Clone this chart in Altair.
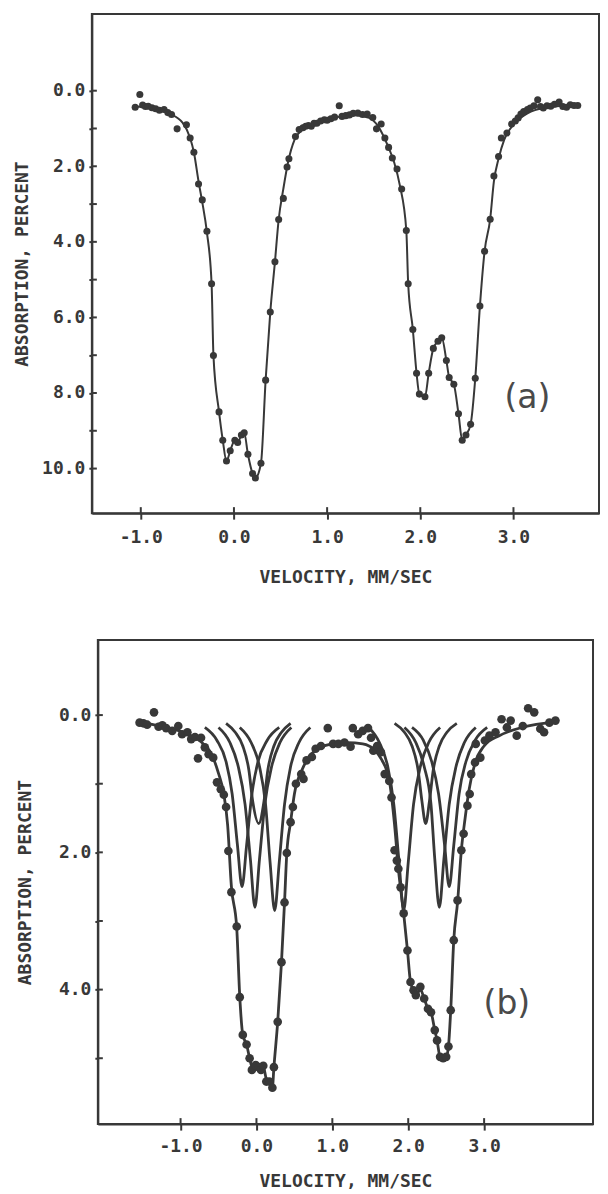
import altair as alt
import pandas as pd

INK = "#383838"
FONT = "DejaVu Sans Mono"

# ---------------- Panel (a) ----------------
a_vel = [-1.06, -1.01, -0.98, -0.95, -0.92, -0.88, -0.84, -0.8, -0.75, -0.71, -0.67, -0.61, -0.51, -0.47,
         -0.43, -0.38, -0.34, -0.29, -0.24, -0.22, -0.16, -0.12, -0.08, -0.04, 0.01, 0.04, 0.08, 0.11,
         0.15, 0.20, 0.23, 0.29, 0.34, 0.39, 0.44, 0.48, 0.53, 0.57, 0.59, 0.66, 0.70, 0.74, 0.77, 0.80,
         0.83, 0.86, 0.89, 0.93, 0.97, 1.00, 1.04, 1.08, 1.13, 1.16, 1.20, 1.24, 1.28, 1.33, 1.38, 1.43,
         1.49, 1.53, 1.58, 1.62, 1.66, 1.70, 1.75, 1.80, 1.85, 1.87, 1.92, 1.96, 1.99, 2.05, 2.09, 2.14,
         2.19, 2.23, 2.28, 2.31, 2.36, 2.41, 2.45, 2.49, 2.54, 2.59, 2.64, 2.69, 2.75, 2.79, 2.84, 2.87,
         2.93, 2.98, 3.02, 3.05, 3.08, 3.11, 3.15, 3.18, 3.22, 3.26, 3.29, 3.32, 3.36, 3.40, 3.44, 3.49,
         3.53, 3.57, 3.61, 3.65, 3.69]
a_abs = [0.44, 0.10, 0.38, 0.42, 0.41, 0.45, 0.48, 0.52, 0.50, 0.58, 0.63, 1.01, 0.90, 1.25,
         1.63, 2.47, 2.89, 3.72, 5.11, 7.01, 8.50, 9.25, 9.80, 9.53, 9.25, 9.31, 9.11, 9.05,
         9.62, 10.13, 10.25, 9.86, 7.66, 5.86, 4.53, 3.41, 2.85, 2.02, 1.80, 1.21, 1.03, 0.98, 0.94, 0.92,
         0.94, 0.86, 0.86, 0.80, 0.77, 0.78, 0.74, 0.70, 0.40, 0.68, 0.66, 0.64, 0.60, 0.59, 0.63, 0.62,
         0.71, 1.01, 0.88, 1.25, 1.50, 1.78, 2.07, 2.60, 3.70, 5.11, 6.32, 7.48, 8.03, 8.10, 7.48, 6.82,
         6.63, 6.54, 7.14, 7.59, 7.77, 8.55, 9.25, 9.11, 8.83, 7.61, 5.70, 4.25, 3.40, 2.26, 1.74, 1.25,
         1.12, 0.88, 0.80, 0.72, 0.62, 0.55, 0.50, 0.46, 0.40, 0.24, 0.42, 0.46, 0.40, 0.41, 0.36, 0.30,
         0.42, 0.44, 0.37, 0.39, 0.39]

a_fit_vel = [-1.06, -0.9, -0.7, -0.55, -0.47, -0.43, -0.38, -0.34, -0.29, -0.24, -0.22, -0.16, -0.12,
             -0.08, -0.04, 0.01, 0.04, 0.08, 0.11, 0.15, 0.20, 0.23, 0.29, 0.34, 0.39, 0.44, 0.48, 0.53,
             0.58, 0.65, 0.75, 0.9, 1.1, 1.3, 1.45, 1.55, 1.65, 1.72, 1.78, 1.85, 1.87, 1.92, 1.96, 1.99,
             2.05, 2.09, 2.14, 2.19, 2.23, 2.28, 2.31, 2.36, 2.41, 2.45, 2.49, 2.54, 2.59, 2.64, 2.69,
             2.75, 2.79, 2.84, 2.9, 3.0, 3.15, 3.35, 3.69]
a_fit_abs = [0.42, 0.45, 0.60, 0.85, 1.25, 1.63, 2.40, 2.95, 3.75, 5.11, 7.01, 8.50, 9.25,
             9.80, 9.53, 9.25, 9.31, 9.11, 9.05, 9.62, 10.13, 10.25, 9.86, 7.66, 5.86, 4.53, 3.41, 2.60,
             1.90, 1.30, 1.00, 0.82, 0.70, 0.65, 0.72, 0.95, 1.45, 1.90, 2.50, 3.70, 5.11, 6.32, 7.48, 8.03,
             8.10, 7.48, 6.82, 6.63, 6.54, 7.14, 7.59, 7.77, 8.55, 9.25, 9.11, 8.83, 7.61, 5.70, 4.25,
             3.40, 2.40, 1.80, 1.30, 0.90, 0.60, 0.45, 0.38]

a_xticks = [-1, 0, 1, 2, 3]
a_yticks = [0, 1, 2, 3, 4, 5, 6, 7, 8, 9, 10]

# ---------------- Panel (b) ----------------
b_vel = [-1.54, -1.49, -1.44, -1.35, -1.29, -1.24, -1.19, -1.11, -1.03, -0.98, -0.91, -0.86, -0.81, -0.77,
         -0.73, -0.68, -0.63, -0.57, -0.52, -0.47, -0.43, -0.40, -0.37, -0.33, -0.26, -0.22, -0.18, -0.13,
         -0.09, -0.06, -0.01, 0.03, 0.06, 0.09, 0.13, 0.17, 0.21, 0.23, 0.28, 0.33, 0.37, 0.40, 0.45, 0.48,
         0.52, 0.59, 0.62, 0.66, 0.73, 0.78, 0.85, 0.94, 1.01, 1.08, 1.16, 1.24, 1.27, 1.34, 1.40, 1.47,
         1.51, 1.54, 1.59, 1.64, 1.69, 1.75, 1.78, 1.82, 1.85, 1.87, 1.90, 1.94, 1.99, 2.03, 2.07, 2.10,
         2.16, 2.21, 2.26, 2.30, 2.35, 2.38, 2.42, 2.46, 2.50, 2.53, 2.56, 2.60, 2.65, 2.70, 2.73, 2.78,
         2.81, 2.83, 2.88, 2.89, 2.95, 3.01, 3.07, 3.15, 3.23, 3.30, 3.35, 3.43, 3.51, 3.58, 3.66, 3.74,
         3.79, 3.86, 3.94]
b_abs = [0.11, 0.12, 0.14, -0.04, 0.17, 0.15, 0.19, 0.23, 0.16, 0.28, 0.25, 0.35, 0.32, 0.63,
         0.33, 0.47, 0.57, 0.62, 0.98, 1.08, 1.16, 1.34, 1.98, 2.58, 3.08, 4.11, 4.66, 4.80,
         5.00, 5.17, 5.10, 5.13, 5.17, 5.11, 5.34, 5.34, 5.43, 5.13, 4.47, 3.60, 2.73, 2.01, 1.56, 1.34,
         1.00, 0.86, 0.93, 0.66, 0.61, 0.49, 0.45, 0.19, 0.42, 0.42, 0.40, 0.46, 0.19, 0.28, 0.23, 0.19,
         0.33, 0.52, 0.45, 0.54, 0.86, 0.96, 1.20, 1.97, 2.12, 2.24, 2.51, 2.89, 3.43, 3.89, 4.01, 4.08,
         3.96, 4.13, 4.28, 4.33, 4.59, 4.74, 4.98, 5.00, 4.98, 4.83, 4.30, 3.28, 2.70, 1.97, 1.73, 1.32,
         1.15, 0.86, 0.69, 0.42, 0.62, 0.37, 0.30, 0.25, 0.06, 0.18, 0.08, 0.30, 0.16, -0.10, -0.04, 0.20,
         0.25, 0.11, 0.08]

b_fit_vel = [-1.55, -1.2, -0.9, -0.7, -0.6, -0.5, -0.43, -0.38, -0.33, -0.26, -0.22, -0.18, -0.13, -0.09,
             -0.05, 0.0, 0.05, 0.09, 0.13, 0.17, 0.21, 0.23, 0.28, 0.33, 0.37, 0.40, 0.45, 0.5, 0.6, 0.7,
             0.85, 1.0, 1.2, 1.4, 1.55, 1.65, 1.75, 1.82, 1.87, 1.94, 1.99, 2.03, 2.07, 2.12, 2.16, 2.21,
             2.26, 2.30, 2.35, 2.38, 2.42, 2.46, 2.50, 2.53, 2.56, 2.60, 2.65, 2.70, 2.75, 2.8, 2.88, 3.0,
             3.2, 3.5, 3.95]
b_fit_abs = [0.10, 0.18, 0.28, 0.42, 0.55, 0.85, 1.15, 1.60, 2.50, 3.10, 4.10, 4.66, 4.80, 5.00,
             5.15, 5.12, 5.15, 5.12, 5.30, 5.34, 5.43, 5.13, 4.47, 3.60, 2.73, 2.01, 1.56, 1.15, 0.80, 0.60,
             0.47, 0.42, 0.40, 0.42, 0.50, 0.65, 0.95, 1.60, 2.24, 2.89, 3.43, 3.89, 4.01, 4.05, 4.00, 4.13,
             4.28, 4.33, 4.59, 4.74, 4.98, 5.00, 4.98, 4.83, 4.30, 3.28, 2.73, 1.97, 1.50, 1.10, 0.70, 0.45,
             0.30, 0.18, 0.10]

# component lines
comp_names = ["L1", "L2", "L3", "L4", "R1", "R2", "R3", "R4"]
comp_vel = [
    [-0.68, -0.52, -0.40, -0.32, -0.25, -0.19, -0.13, -0.06, 0.02, 0.14, 0.30],
    [-0.40, -0.28, -0.18, -0.10, -0.05, 0.03, 0.10, 0.15, 0.23, 0.33, 0.45],
    [-0.50, -0.35, -0.24, -0.15, -0.08, -0.02, 0.04, 0.11, 0.20, 0.31, 0.46],
    [-0.22, -0.07, 0.04, 0.12, 0.18, 0.24, 0.30, 0.37, 0.45, 0.56, 0.71],
    [1.48, 1.62, 1.73, 1.81, 1.88, 1.94, 2.00, 2.07, 2.16, 2.27, 2.42],
    [1.82, 1.95, 2.05, 2.13, 2.18, 2.23, 2.28, 2.33, 2.41, 2.51, 2.64],
    [1.95, 2.10, 2.21, 2.30, 2.35, 2.41, 2.47, 2.54, 2.63, 2.74, 2.89],
    [2.05, 2.20, 2.31, 2.40, 2.48, 2.54, 2.60, 2.67, 2.76, 2.88, 3.04],
]
comp_abs = [
    [0.18, 0.37, 0.68, 1.15, 1.90, 2.50, 1.90, 1.15, 0.68, 0.37, 0.18],
    [0.12, 0.25, 0.45, 0.80, 1.25, 1.58, 1.25, 0.80, 0.45, 0.25, 0.12],
    [0.18, 0.40, 0.75, 1.30, 2.10, 2.80, 2.10, 1.30, 0.75, 0.40, 0.18],
    [0.18, 0.40, 0.75, 1.30, 2.15, 2.85, 2.15, 1.30, 0.75, 0.40, 0.18],
    [0.18, 0.40, 0.75, 1.30, 2.15, 2.85, 2.15, 1.30, 0.75, 0.40, 0.18],
    [0.12, 0.25, 0.45, 0.80, 1.25, 1.58, 1.25, 0.80, 0.45, 0.25, 0.12],
    [0.18, 0.40, 0.75, 1.30, 2.10, 2.80, 2.10, 1.30, 0.75, 0.40, 0.18],
    [0.18, 0.37, 0.68, 1.15, 1.90, 2.50, 1.90, 1.15, 0.68, 0.37, 0.18],
]

b_xticks = [-1, 0, 1, 2, 3]
b_yticks = [0, 1, 2, 3, 4, 5]

MINUS_FIX = "replace(format(datum.value, '.1f'), '\u2212', '-')"


def panel(vel, ab, fit_v, fit_a, comps, xdom, ydom, w, h, xticks, yticks, tag, tagx, tagy,
          ytitle_pad, xlabel_pad, xtitle_pad, pt_size, line_w):
    xs = alt.Scale(domain=xdom, nice=False, zero=False)
    ys = alt.Scale(domain=ydom, nice=False, zero=False, reverse=True)
    xax = alt.Axis(values=xticks, labelExpr=MINUS_FIX, title="VELOCITY, MM/SEC", grid=False,
                   tickSize=6, tickWidth=2, domainWidth=2, domainColor=INK, tickColor=INK,
                   labelPadding=xlabel_pad, titlePadding=xtitle_pad, labelFont=FONT, titleFont=FONT,
                   labelFontSize=18, titleFontSize=18, labelFontWeight="bold", titleFontWeight="bold",
                   labelColor=INK, titleColor=INK, labelFlush=False)
    yax = alt.Axis(values=yticks,
                   labelExpr="datum.value % 2 == 0 ? " + MINUS_FIX + " : ''",
                   title="ABSORPTION, PERCENT", grid=False, tickSize=3, tickWidth=2, domainWidth=2,
                   domainColor=INK, tickColor=INK, labelPadding=4, titlePadding=ytitle_pad,
                   labelFont=FONT, titleFont=FONT, labelFontSize=18, titleFontSize=18,
                   labelFontWeight="bold", titleFontWeight="bold", labelColor=INK, titleColor=INK,
                   labelFlush=False)

    pts = pd.DataFrame({"v": vel, "a": ab})
    fit = pd.DataFrame({"v": fit_v, "a": fit_a, "o": list(range(len(fit_v)))})

    layers = []
    for cname, cv, ca in comps:
        cdf = pd.DataFrame({"v": cv, "a": ca, "o": list(range(len(cv)))})
        layers.append(
            alt.Chart(cdf).mark_line(color=INK, strokeWidth=line_w, interpolate="monotone").encode(
                x=alt.X("v:Q", scale=xs, axis=xax), y=alt.Y("a:Q", scale=ys, axis=yax), order="o:Q"))

    layers.append(alt.Chart(fit).mark_line(color=INK, strokeWidth=line_w, interpolate="monotone").encode(
        x=alt.X("v:Q", scale=xs, axis=xax), y=alt.Y("a:Q", scale=ys, axis=yax), order="o:Q"))
    layers.append(alt.Chart(pts).mark_circle(color=INK, size=pt_size, opacity=1).encode(
        x=alt.X("v:Q", scale=xs, axis=xax), y=alt.Y("a:Q", scale=ys, axis=yax)))

    # inward halves of the tick marks
    yt = pd.DataFrame({"t": yticks})
    layers.append(alt.Chart(yt).mark_rule(color=INK, strokeWidth=2).encode(
        y=alt.Y("t:Q", scale=ys, axis=yax), x=alt.value(0), x2=alt.value(5)))
    xt = pd.DataFrame({"t": xticks})
    layers.append(alt.Chart(xt).mark_rule(color=INK, strokeWidth=2).encode(
        x=alt.X("t:Q", scale=xs, axis=xax), y=alt.value(h), y2=alt.value(h - 6)))

    layers.append(alt.Chart(pd.DataFrame({"l": [tag]})).mark_text(
        font="DejaVu Sans", fontSize=33, color="#4a4a4a", align="center", baseline="middle").encode(
        x=alt.datum(tagx), y=alt.datum(tagy), text="l:N"))

    return alt.layer(*layers).properties(width=w, height=h)


pa = panel(a_vel, a_abs, a_fit_vel, a_fit_abs, [], [-1.525, 3.918], [-2.03, 11.18], 508, 500,
           a_xticks, a_yticks, "(a)", 3.15, 8.13, 10, 9, 22, 50, 2)
pb = panel(b_vel, b_abs, b_fit_vel, b_fit_abs, list(zip(comp_names, comp_vel, comp_abs)),
           [-2.09, 4.435], [-1.095, 5.96], 496, 485, b_xticks, b_yticks, "(b)", 3.3, 4.21, 24, 7, 17,
           75, 2.8)

chart = alt.vconcat(pa, pb, spacing=52, center=True).properties(
    padding={"left": 4, "top": 4, "right": 0, "bottom": 0}
).configure_view(stroke=INK, strokeWidth=2)

chart.save("out.html", embed_options={"renderer": "svg", "actions": False})
